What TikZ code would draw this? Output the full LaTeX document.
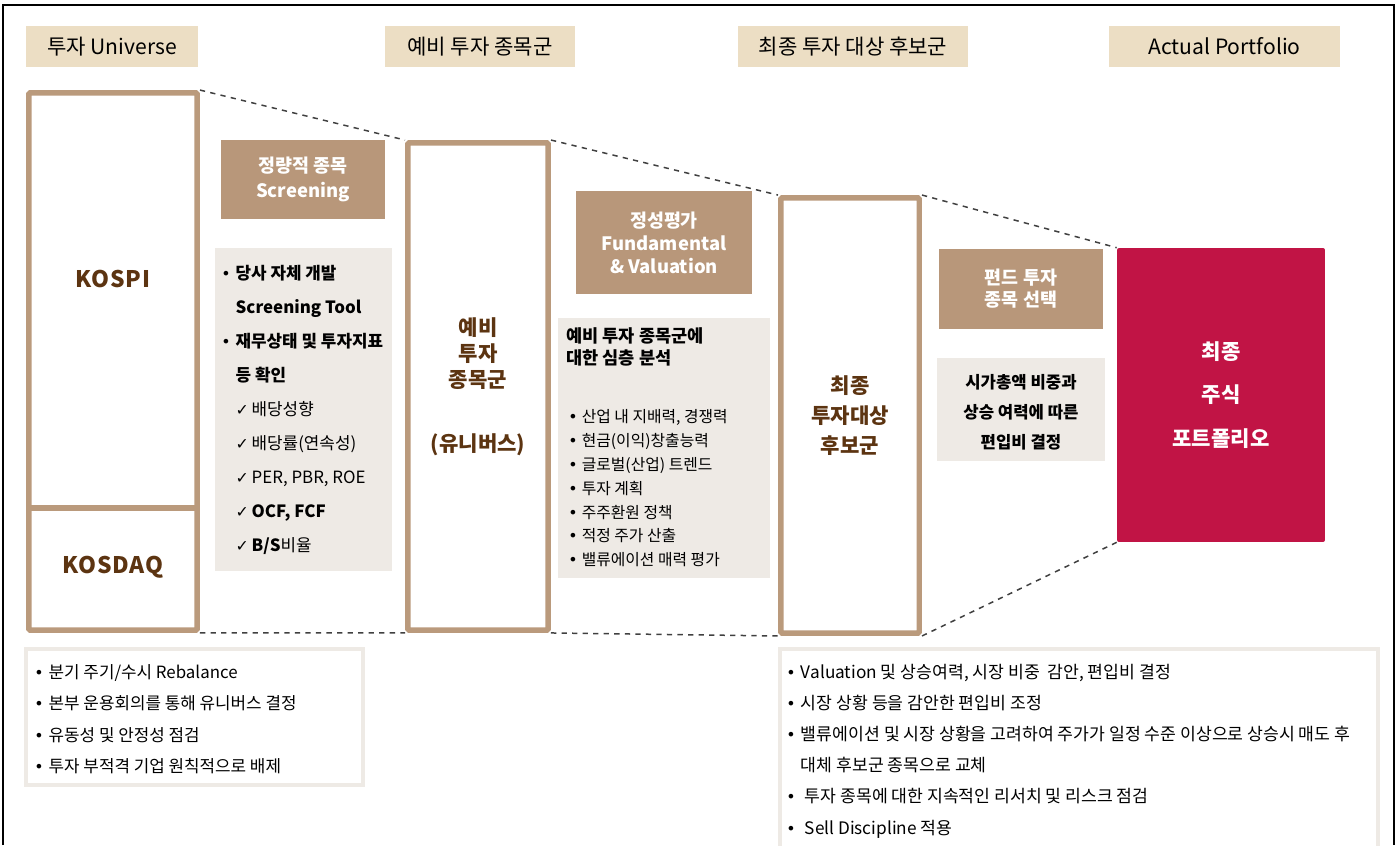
\documentclass[tikz,border=0pt]{standalone}
\usepackage{fontspec}
\setmainfont{Noto Sans CJK KR}
\newfontfamily\symfont{DejaVu Sans}
\usetikzlibrary{positioning}
\definecolor{boxtan}{RGB}{186,154,124}
\definecolor{tagbrown}{RGB}{184,151,122}
\definecolor{headbeige}{RGB}{236,222,196}
\definecolor{notegray}{RGB}{238,234,229}
\definecolor{darkbrown}{RGB}{92,52,17}
\definecolor{crimson}{RGB}{193,20,69}
\newcommand{\bul}{\makebox[0.85em][l]{\symfont\small •}}
\newcommand{\chk}{\makebox[0.95em][l]{\symfont\small ✓}}

\begin{document}
\begin{tikzpicture}[x=0.02cm, y=-0.02cm,
    heading/.style = {fill=headbeige, minimum height=0.82cm, inner sep=0, font=\fontsize{12}{14}\selectfont},
    stage/.style = {draw=boxtan, line width=0.11cm, rounded corners=0.03cm, inner sep=0, text=darkbrown, align=center},
    market/.style = {text=darkbrown, inner sep=0, font=\bfseries\fontsize{13}{16}\selectfont\addfontfeature{LetterSpace=3}},
    tag/.style = {fill=tagbrown, text=white, inner sep=0, align=center},
    note/.style = {fill=notegray, inner sep=0},
    outline/.style = {draw=notegray, line width=0.08cm, inner sep=0},
    items/.style = {anchor=north west, inner sep=0, align=left},
    gap/.style = {draw=black!75, dashed, line width=0.03cm},
    ]
    \useasboundingbox (0,0) rectangle (1399,845);
    \draw[line width=0.05cm] (3,845) -- (3,5) -- (1394,5) -- (1394,845);

    \node[heading, minimum width=3.44cm] (hUniv) at (112,46.5) {투자 Universe};
    \node[heading, minimum width=3.8cm] (hPre) at (480,46.5) {예비 투자 종목군};
    \node[heading, minimum width=4.6cm] (hCand) at (853,46.5) {최종 투자 대상 후보군};
    \node[heading, minimum width=4.62cm] (hPort) at (1224.5,46.5) {Actual Portfolio};

    \node[note, minimum width=3.54cm, minimum height=6.46cm] (scrNote) at (303.5,409.5) {};
    \node[note, minimum width=4.24cm, minimum height=5.2cm] (fundNote) at (664,448) {};
    \node[note, minimum width=3.36cm, minimum height=2.06cm] (wNote) at (1021,409.5) {};

    \node[tag, minimum width=3.28cm, minimum height=1.58cm, font=\bfseries\fontsize{10.5}{14.2}\selectfont] (scrTag) at (303,179.5) {정량적 종목\\Screening};
    \node[tag, minimum width=3.52cm, minimum height=2.06cm, font=\bfseries\fontsize{10.5}{13}\selectfont] (fundTag) at (664,242.5) {정성평가\\Fundamental\\\& Valuation};
    \node[tag, minimum width=3.28cm, minimum height=1.6cm, font=\bfseries\fontsize{10.5}{12.5}\selectfont] (pickTag) at (1021,289) {편드 투자\\종목 선택};

    \node[stage, minimum width=3.37cm, minimum height=10.75cm] (univ) at (113,361.5) {};
    \coordinate (split) at (113,508);
    \draw[boxtan, line width=0.11cm] (univ.west |- split) -- (univ.east |- split);
    \node[market] (kospi) at (113,279) {KOSPI};
    \node[market] (kosdaq) at (113,567) {KOSDAQ};

    \node[stage, minimum width=2.81cm, minimum height=9.75cm, font=\bfseries\fontsize{12}{15}\selectfont] (pre) at (478,386.5) {예비\\투자\\종목군\\[21pt](유니버스)};
    \node[stage, minimum width=2.77cm, minimum height=8.71cm, font=\bfseries\fontsize{12}{17.3}\selectfont] (cand) at (850,415.5) {최종\\투자대상\\후보군};
    \node[fill=crimson, rounded corners=0.04cm, minimum width=4.16cm, minimum height=5.88cm, text=white, align=center, font=\bfseries\fontsize{12}{24.7}\selectfont] (port) at (1221,395) {최종\\주식\\포트폴리오};

    \draw[gap] (univ.north east) -- (pre.north west) (pre.north east) -- (cand.north west) (cand.north east) -- (port.north west);
    \draw[gap] (univ.south east) -- (pre.south west) (pre.south east) -- (cand.south west) (cand.south east) -- (port.south west);

    \node[items, font=\fontsize{9.6}{19.4}\selectfont] (scrItems) at (221,264.5) {\bul\textbf{당사 자체 개발}\\
        \hspace*{0.85em}\textbf{Screening Tool}\\
        \bul\textbf{재무상태 및 투자지표}\\
        \hspace*{0.85em}\textbf{등 확인}\\
        \hspace*{0.85em}\chk 배당성향\\
        \hspace*{0.85em}\chk 배당률(연속성)\\
        \hspace*{0.85em}\chk PER, PBR, ROE\\
        \hspace*{0.85em}\chk\textbf{OCF, FCF}\\
        \hspace*{0.85em}\chk\textbf{B/S}비율};
    \node[items, font=\bfseries\fontsize{10}{12.5}\selectfont] (fundHead) at (566,327) {예비 투자 종목군에\\대한 심층 분석};
    \node[items, font=\fontsize{9}{13.6}\selectfont] (fundItems) at (568,409) {\bul 산업 내 지배력, 경쟁력\\
        \bul 현금(이익)창출능력\\
        \bul 글로벌(산업) 트렌드\\
        \bul 투자 계획\\
        \bul 주주환원 정책\\
        \bul 적정 주가 산출\\
        \bul 밸류에이션 매력 평가};
    \node[align=center, inner sep=0, font=\bfseries\fontsize{9.5}{17}\selectfont] (wText) at (1021,412) {시가총액 비중과\\상승 여력에 따른\\편입비 결정};

    \node[outline, minimum width=6.74cm, minimum height=2.72cm] (botL) at (194.5,717) {};
    \node[outline, minimum width=11.96cm, minimum height=4.62cm] (botR) at (1079,764.5) {};
    \node[items, font=\fontsize{9.6}{17.9}\selectfont] (univItems) at (34,664) {\bul 분기 주기/수시 Rebalance\\
        \bul 본부 운용회의를 통해 유니버스 결정\\
        \bul 유동성 및 안정성 점검\\
        \bul 투자 부적격 기업 원칙적으로 배제};
    \node[items, font=\fontsize{9.8}{17.7}\selectfont] (candItems) at (786,664) {\bul Valuation 및 상승여력, 시장 비중\ \ 감안, 편입비 결정\\
        \bul 시장 상황 등을 감안한 편입비 조정\\
        \bul 밸류에이션 및 시장 상황을 고려하여 주가가 일정 수준 이상으로 상승시 매도 후\\
        \hspace*{0.85em}대체 후보군 종목으로 교체\\
        \bul\ 투자 종목에 대한 지속적인 리서치 및 리스크 점검\\
        \bul\ Sell Discipline 적용};
\end{tikzpicture}
\end{document}
